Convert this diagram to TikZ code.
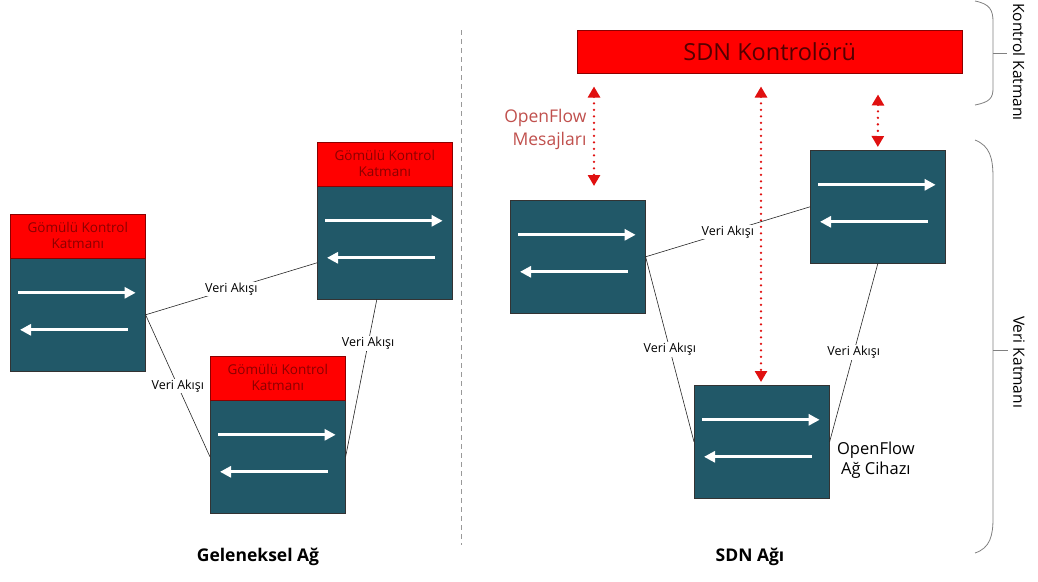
\documentclass[tikz,border=0pt]{standalone}
\usepackage{fontspec}
\setmainfont{Open Sans}
\usepackage{xcolor}
\usetikzlibrary{arrows.meta, positioning, calc}
\definecolor{ctrlred}{HTML}{FF0000}
\definecolor{ctrltext}{HTML}{8B0000}
\definecolor{devteal}{HTML}{215868}
\definecolor{msgred}{HTML}{E01010}
\definecolor{msgtext}{HTML}{C0504D}
\definecolor{bracegray}{HTML}{808080}

\tikzset{
  devbody/.style={draw=black!80, line width=0.6pt, fill=devteal, minimum width=135pt, minimum height=113pt, inner sep=0pt},
  ctrlhead/.style={draw=ctrltext, line width=0.5pt, fill=ctrlred, minimum width=135pt, minimum height=44pt, inner sep=0pt,
    align=center, text=ctrltext, font=\fontsize{13.5}{16}\selectfont},
  flowarrow/.style={draw=white, line width=3.2pt, -{Triangle[length=11pt, width=11pt]}},
  flowline/.style={draw=black!85, line width=0.6pt},
  flowlabel/.style={fill=white, inner sep=1pt, font=\fontsize{12.5}{14}\selectfont},
  msgarrow/.style={draw=msgred, line width=2.6pt, line cap=round, dash pattern=on 0pt off 6.5pt,
    {Triangle[length=11pt, width=12pt, fill=msgred]}-{Triangle[length=11pt, width=12pt, fill=msgred]}},
  layerbrace/.style={draw=bracegray, line width=0.8pt},
  layerlabel/.style={rotate=-90, font=\fontsize{15.5}{18}\selectfont}
}

\begin{document}
\begin{tikzpicture}[x=1pt, y=-1pt]
  \useasboundingbox (0,0) rectangle (1038,581);

  % traditional network: devices with embedded control
  \node[devbody, anchor=north west] (ga) at (10,258) {};
  \node[devbody, anchor=north west] (gb) at (317,186) {};
  \node[devbody, anchor=north west] (gc) at (210,400) {};
  \node[ctrlhead, above=0pt of ga] (gahead) {Gömülü Kontrol\\Katmanı};
  \node[ctrlhead, above=0pt of gb] (gbhead) {Gömülü Kontrol\\Katmanı};
  \node[ctrlhead, above=0pt of gc] (gchead) {Gömülü Kontrol\\Katmanı};

  % SDN network: controller and forwarding devices
  \node[draw=ctrltext, line width=0.5pt, fill=ctrlred, minimum width=385pt, minimum height=43pt,
    anchor=north west, text=ctrltext!60!black, font=\fontsize{23.5}{26}\selectfont] (ctrl) at (577,30) {SDN Kontrolörü};
  \node[devbody, anchor=north west] (sa) at (510,200) {};
  \node[devbody, anchor=north west] (sb) at (810,150) {};
  \node[devbody, anchor=north west] (sc) at (694,385) {};

  % forward / backward flows inside every device
  \foreach \b in {ga,gb,gc,sa,sb,sc} {
    \draw[flowarrow] ($(\b.west)+(8,-22)$) -- ($(\b.east)+(-10,-22)$);
    \draw[flowarrow] ($(\b.east)+(-18,15)$) -- ($(\b.west)+(10,15)$);
  }

  % data flow links
  \draw[flowline] (ga.east) -- node[flowlabel] {Veri Akışı} ($(gb.west)+(0,20)$);
  \draw[flowline] (ga.east) -- node[flowlabel] {Veri Akışı} (gc.west);
  \draw[flowline] ($(gb.south)+(-8,0)$) -- node[flowlabel, pos=0.28] {Veri Akışı} (gc.east);

  % OpenFlow messages between controller and devices
  \draw[msgarrow] ($(ctrl.south west)+(17,13)$) -- ($(sa.north west)+(84,-14)$);
  \draw[msgarrow] ($(ctrl.south west)+(184,13)$) -- ($(sc.north west)+(67,-3)$);
  \draw[msgarrow] ($(ctrl.south west)+(301,21)$) -- ($(sb.north)+(0,-3)$);
  \node[anchor=east, align=right, text=msgtext, font=\fontsize{17.5}{23}\selectfont] (msg) at (590,129) {OpenFlow\\Mesajları};

  \draw[flowline] (sa.east) -- node[flowlabel] {Veri Akışı} (sb.west);
  \draw[flowline] (sa.east) -- node[flowlabel] {Veri Akışı} (sc.west);
  \draw[flowline] (sb.south) -- node[flowlabel] {Veri Akışı} (sc.east);
  \node[anchor=west, align=center, font=\fontsize{16.5}{20}\selectfont] (ofdev) at ($(sc.east)+(4,18)$) {OpenFlow\\Ağ Cihazı};

  % separator between the two networks
  \draw[black!40, line width=1pt, dash pattern=on 5pt off 4pt] (461,30) -- (461,545);

  % layer braces
  \draw[layerbrace] (975,1) .. controls (990,4) and (993,10) .. (993,22) -- (993,88)
    .. controls (993,98) and (990,102) .. (975,105);
  \draw[layerbrace] (993,53) -- (1007,53);
  \node[layerlabel] (ctrllayer) at (1019,62) {Kontrol Katmanı};
  \draw[layerbrace] (975,140) .. controls (990,146) and (993,158) .. (993,178) -- (993,518)
    .. controls (993,536) and (990,548) .. (975,553);
  \draw[layerbrace] (993,350) -- (1008,350);
  \node[layerlabel] (datalayer) at (1019,362) {Veri Katmanı};

  % captions
  \node[font=\bfseries\fontsize{17.5}{20}\selectfont] (tradcap) at (258,557) {Geleneksel Ağ};
  \node[font=\bfseries\fontsize{17.5}{20}\selectfont] (sdncap) at (750,557) {SDN Ağı};
\end{tikzpicture}
\end{document}
